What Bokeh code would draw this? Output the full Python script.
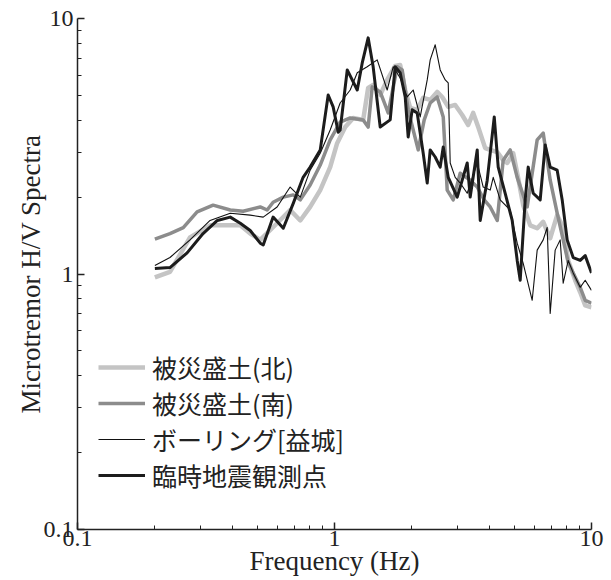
from bokeh.plotting import figure
from bokeh.models import FixedTicker, CustomJSTickFormatter, Legend, LegendItem
from bokeh.embed import file_html
from bokeh.resources import INLINE

# ---- data (frequency in Hz, H/V spectral ratio) ----
north_f = [0.200, 0.229, 0.274, 0.328, 0.430, 0.470, 0.514, 0.598, 0.672, 0.736, 0.804, 0.880,
           0.962, 1.024, 1.101, 1.183, 1.293, 1.352, 1.414, 1.506, 1.603, 1.722, 1.801, 1.884,
           1.970, 2.098, 2.214, 2.357, 2.509, 2.625, 2.770, 2.949, 3.140, 3.313, 3.465, 3.624,
           3.858, 4.036, 4.298, 4.533, 4.699, 4.959, 5.186, 5.423, 5.775, 6.147, 6.487, 6.907,
           7.353, 7.760, 8.116, 8.641, 9.036, 9.452, 10.0]
north_v = [0.97, 1.02, 1.39, 1.55, 1.55, 1.44, 1.36, 1.58, 1.78, 1.62, 1.83, 2.13,
           2.62, 3.25, 3.76, 4.08, 4.01, 5.35, 5.50, 5.02, 5.75, 6.52, 6.58, 5.25,
           4.47, 4.39, 4.89, 4.80, 5.16, 4.93, 4.51, 4.59, 4.19, 3.83, 4.27, 3.76,
           3.11, 3.06, 3.00, 2.79, 2.72, 2.97, 2.37, 1.86, 1.55, 1.51, 1.60, 1.38,
           1.70, 1.52, 1.13, 0.945, 0.848, 0.754, 0.740]

south_f = [0.200, 0.229, 0.258, 0.292, 0.337, 0.393, 0.441, 0.514, 0.547, 0.577, 0.632, 0.691,
           0.736, 0.804, 0.880, 0.962, 1.052, 1.151, 1.293, 1.352, 1.402, 1.506, 1.618, 1.754,
           1.834, 1.935, 2.024, 2.117, 2.234, 2.357, 2.509, 2.649, 2.745, 2.897, 3.084, 3.373,
           3.592, 3.823, 4.036, 4.298, 4.533, 4.827, 5.139, 5.620, 6.147, 6.487, 6.907, 7.353,
           7.760, 8.116, 8.487, 9.036, 9.452, 10.0]
south_v = [1.37, 1.44, 1.52, 1.75, 1.86, 1.78, 1.76, 1.83, 1.78, 1.91, 2.00, 2.04,
           1.95, 2.23, 2.67, 3.35, 3.93, 4.08, 4.01, 3.76, 5.40, 5.16, 4.27, 6.47,
           6.29, 4.39, 3.66, 3.06, 4.01, 4.67, 4.93, 4.12, 2.13, 1.95, 2.48, 2.33,
           2.19, 1.95, 1.83, 1.62, 2.79, 3.06, 2.39, 1.83, 3.35, 3.56, 2.33, 1.73,
           1.36, 1.11, 1.01, 0.887, 0.789, 0.768]

boring_f = [0.200, 0.229, 0.274, 0.328, 0.393, 0.470, 0.528, 0.598, 0.672, 0.736, 0.804, 0.880,
            0.962, 1.052, 1.151, 1.226, 1.340, 1.466, 1.603, 1.692, 1.801, 1.918, 2.024, 2.155,
            2.295, 2.357, 2.465, 2.578, 2.697, 2.770, 2.820, 2.949, 3.084, 3.284, 3.592, 3.790,
            4.036, 4.146, 4.413, 4.827, 5.139, 5.423, 5.878, 6.147, 6.487, 6.723, 6.907, 7.222,
            7.553, 7.760, 8.116, 8.487, 9.036, 9.452, 10.0]
boring_v = [1.08, 1.16, 1.36, 1.62, 1.73, 1.70, 1.67, 1.83, 2.19, 2.00, 2.55, 2.97,
            3.66, 4.67, 5.25, 6.13, 6.47, 6.89, 5.25, 6.47, 5.85, 4.93, 5.25, 4.12,
            5.75, 6.89, 7.89, 6.29, 5.75, 5.60, 2.72, 2.39, 2.27, 2.07, 2.72, 2.19,
            2.13, 2.39, 1.95, 1.78, 1.32, 1.10, 0.789, 1.24, 1.36, 1.52, 0.701, 1.24,
            1.36, 0.92, 1.13, 1.01, 0.887, 0.945, 0.863]

temp_f = [0.200, 0.229, 0.267, 0.308, 0.350, 0.393, 0.430, 0.470, 0.514, 0.528, 0.577, 0.632,
          0.691, 0.755, 0.804, 0.880, 0.945, 0.988, 1.034, 1.052, 1.121, 1.226, 1.282, 1.352,
          1.414, 1.506, 1.647, 1.722, 1.801, 1.884, 1.935, 2.006, 2.098, 2.214, 2.295, 2.357,
          2.465, 2.578, 2.649, 2.770, 3.003, 3.140, 3.284, 3.373, 3.592, 3.690, 3.929, 4.184,
          4.335, 4.615, 4.914, 5.139, 5.279, 5.521, 5.671, 5.931, 6.315, 6.604, 6.907, 7.353,
          7.691, 8.043, 8.487, 9.036, 9.452, 10.0]
temp_v = [1.05, 1.06, 1.21, 1.44, 1.62, 1.67, 1.58, 1.48, 1.32, 1.30, 1.67, 1.51,
          1.89, 2.39, 2.62, 3.06, 5.02, 4.51, 3.59, 3.66, 6.29, 5.25, 6.70, 8.40,
          6.47, 3.76, 4.01, 6.47, 6.13, 4.93, 3.44, 4.39, 4.27, 2.97, 2.27, 3.06,
          2.87, 2.62, 3.14, 2.39, 2.00, 2.33, 2.72, 2.00, 3.06, 1.62, 2.33, 4.12,
          2.62, 2.07, 1.62, 1.13, 0.945, 1.95, 2.62, 2.07, 1.95, 3.20, 2.62, 2.55,
          1.95, 1.36, 1.16, 1.13, 1.18, 1.01]

series_names = ["被災盛土(北)", "被災盛土(南)", "ボーリング[益城]", "臨時地震観測点"]
major_ticks = [0.1, 1, 10]
minor_ticks = [0.2, 0.3, 0.4, 0.5, 0.6, 0.7, 0.8, 0.9, 2, 3, 4, 5, 6, 7, 8, 9]
x_title = "Frequency (Hz)"
y_title = "Microtremor H/V Spectra"

SERIF = "Liberation Serif"
INK = "#222222"

p = figure(width=611, height=580, x_axis_type="log", y_axis_type="log",
           x_range=(0.1, 10), y_range=(0.1, 10),
           output_backend="svg", toolbar_location=None,
           min_border_left=77, min_border_right=20, min_border_top=18, min_border_bottom=51)

p.outline_line_color = None
p.xgrid.visible = False
p.ygrid.visible = False
p.background_fill_color = "white"
p.border_fill_color = "white"

r1 = p.line(north_f, north_v, line_color="#c4c4c4", line_width=4.5, line_join="round")
r2 = p.line(south_f, south_v, line_color="#8c8c8c", line_width=3.5, line_join="round")
r3 = p.line(boring_f, boring_v, line_color="#111111", line_width=1.1, line_join="round")
r4 = p.line(temp_f, temp_v, line_color="#1c1c1c", line_width=3.0, line_join="round")

for ax in (p.xaxis[0], p.yaxis[0]):
    ax.ticker = FixedTicker(ticks=major_ticks, minor_ticks=minor_ticks)
    ax.formatter = CustomJSTickFormatter(code="return tick.toString();")
    ax.major_tick_in = 7
    ax.major_tick_out = 0
    ax.minor_tick_in = 4
    ax.minor_tick_out = 0
    ax.axis_line_color = INK
    ax.axis_line_width = 1.5
    ax.major_tick_line_color = INK
    ax.major_tick_line_width = 1.5
    ax.minor_tick_line_color = INK
    ax.minor_tick_line_width = 1
    ax.major_label_text_font = SERIF
    ax.major_label_text_font_size = "24px"
    ax.major_label_text_color = INK
    ax.axis_label_text_font = SERIF
    ax.axis_label_text_font_size = "27px"
    ax.axis_label_text_font_style = "normal"
    ax.axis_label_text_color = INK

p.xaxis[0].major_label_standoff = 1
p.xaxis[0].axis_label = x_title
p.xaxis[0].axis_label_standoff = -3
p.yaxis[0].major_label_standoff = 4
p.yaxis[0].axis_label = y_title
p.yaxis[0].axis_label_standoff = -5

legend = Legend(items=[LegendItem(label=series_names[0], renderers=[r1]),
                       LegendItem(label=series_names[1], renderers=[r2]),
                       LegendItem(label=series_names[2], renderers=[r3]),
                       LegendItem(label=series_names[3], renderers=[r4])],
                location=(21, 36), border_line_alpha=0, background_fill_alpha=0,
                label_text_font="Noto Sans CJK JP", label_text_font_size="25px",
                label_text_color=INK,
                glyph_width=47, glyph_height=20, label_standoff=7, spacing=0,
                padding=0, margin=0)
p.add_layout(legend)

open("out.html", "w").write(file_html(p, INLINE))
